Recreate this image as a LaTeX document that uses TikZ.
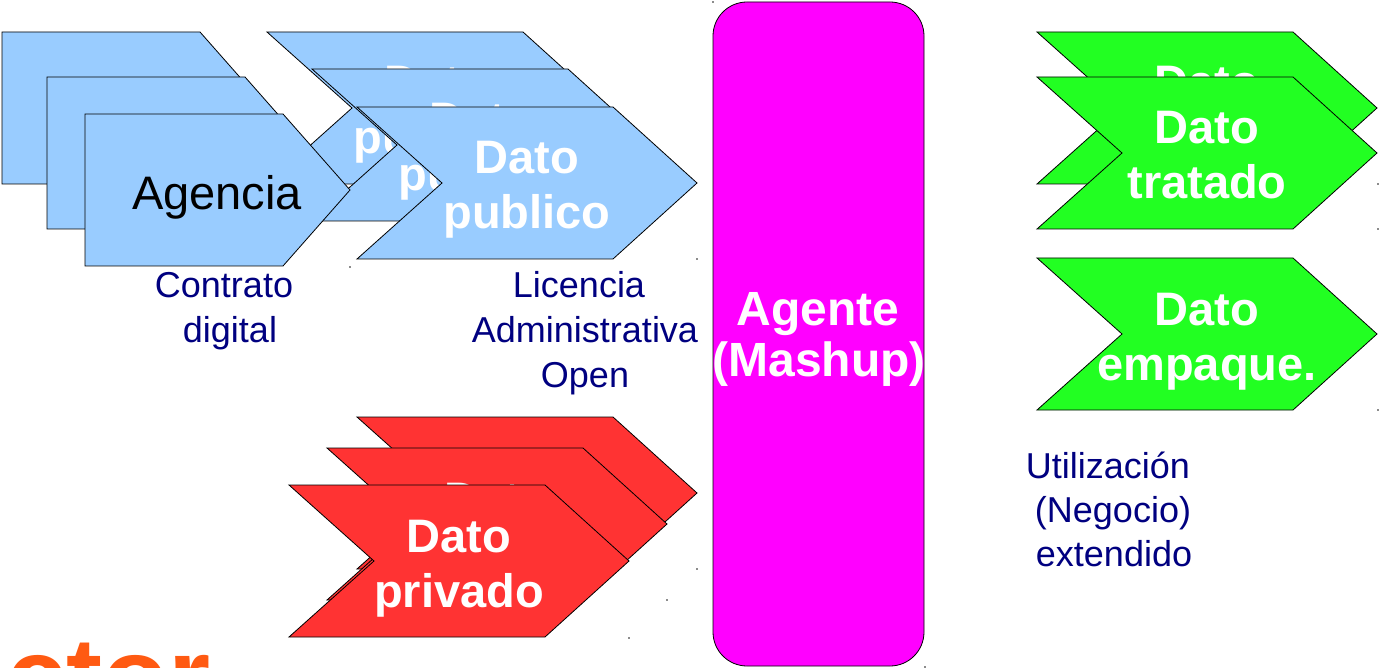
\documentclass[tikz,border=0pt]{standalone}
\usepackage{fontspec}
\setmainfont{Liberation Sans}
\definecolor{pubblue}{HTML}{99CCFF}
\definecolor{privred}{HTML}{FF3333}
\definecolor{datgreen}{HTML}{22FF22}
\definecolor{agentmag}{HTML}{FF00FF}
\definecolor{labnavy}{HTML}{000080}
\definecolor{logoorange}{HTML}{FF5A12}
\tikzset{
  outl/.style={draw=black, line width=0.8pt, line join=miter},
  dato/.style={text=white, font=\fontsize{47}{56}\selectfont\bfseries, inner sep=0pt, anchor=base},
  agtext/.style={text=white, font=\fontsize{48}{56}\selectfont\bfseries, inner sep=0pt, anchor=base},
  agenc/.style={text=black, font=\fontsize{47}{56}\selectfont, inner sep=0pt, anchor=base},
  lab/.style={text=labnavy, font=\fontsize{36}{43}\selectfont, inner sep=0pt, anchor=base},
  logo/.style={text=logoorange, font=\fontsize{108}{120}\selectfont\bfseries, inner sep=0pt, anchor=base west},
  tick/.style={fill=black!45, draw=none}
}
% chevron: x, y, colour, name, line1, line2
\newcommand{\chev}[6]{%
  \draw[outl, fill=#3] (#1,#2) -- ++(256,0) -- ++(84,76) -- ++(-84,76) -- ++(-256,0) -- ++(85,-76) -- cycle;
  \node[dato] (#4a) at (#1+170,#2+67) {#5};
  \node[dato] (#4b) at (#1+170,#2+122) {#6};
}
% pentagon: x, y
\newcommand{\pent}[2]{%
  \draw[outl, fill=pubblue] (#1,#2) -- ++(198,0) -- ++(67,76) -- ++(-67,76) -- ++(-198,0) -- cycle;
}
\newcommand{\tk}[2]{\fill[tick] (#1-1,#2-0.6) rectangle (#1+1,#2+0.6);}
\begin{document}
\begin{tikzpicture}[x=1pt,y=-1pt]
\useasboundingbox (0,0) rectangle (1386,668);
\clip (0,0) rectangle (1386,668);
\fill[white] (0,0) rectangle (1386,668);

% public data stack
\chev{267}{32}{pubblue}{pubA}{Dato}{publico}
\chev{312}{69}{pubblue}{pubB}{Dato}{publico}
\chev{357}{107}{pubblue}{pubC}{Dato}{publico}

% agency stack
\pent{2}{32}
\pent{47}{77}
\pent{85}{114}
\node[agenc] (agencia) at (217,210) {Agencia};

% private data stack
\chev{357}{417}{privred}{privA}{Dato}{privado}
\chev{327}{448}{privred}{privB}{Dato}{privado}
\chev{289}{485}{privred}{privC}{Dato}{privado}

% processed data
\chev{1037}{32}{datgreen}{tratA}{Dato}{tratado}
\chev{1037}{77}{datgreen}{tratB}{Dato}{tratado}
\chev{1037}{258}{datgreen}{emp}{Dato}{empaque.}

% agent
\draw[outl, fill=agentmag, rounded corners=34pt] (713,2) rectangle (924,666);
\node[agtext] (ag1) at (818,325) {Agente};
\node[agtext] (ag2) at (819,376) {(Mashup)};

% labels
\node[lab] (c1) at (224,298) {Contrato};
\node[lab] (c2) at (230,342) {digital};
\node[lab] (l1) at (579,297) {Licencia};
\node[lab] (l2) at (585,342) {Administrativa};
\node[lab] (l3) at (585,387) {Open};
\node[lab] (u1) at (1108,478) {Utilización};
\node[lab] (u2) at (1113,522) {(Negocio)};
\node[lab] (u3) at (1114,566) {extendido};

% logo fragment
\node[logo] (logo) at (-54,713) {ector};

% small marks
\tk{350}{267}\tk{697}{259}\tk{697}{569}\tk{667}{600}\tk{629}{638}
\tk{1378}{184}\tk{1378}{229}\tk{1378}{410}\tk{713}{2}\tk{925}{667}
\end{tikzpicture}
\end{document}
